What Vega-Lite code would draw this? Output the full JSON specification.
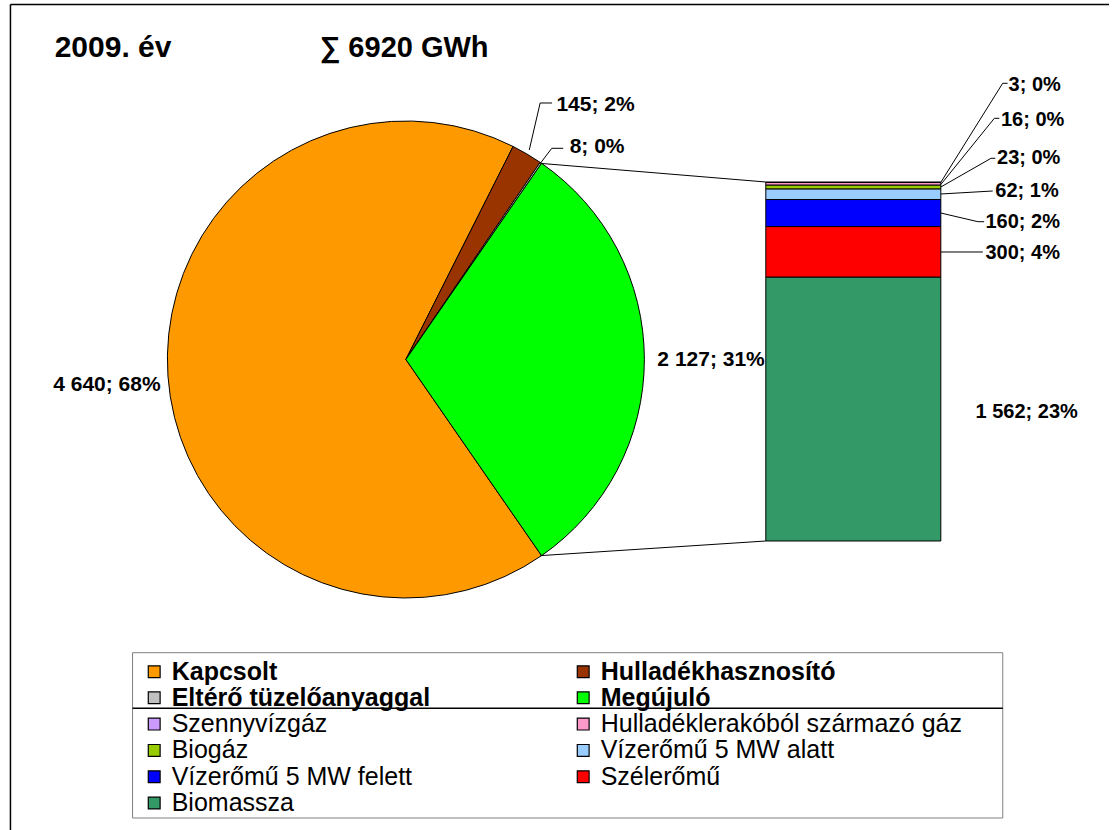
{
  "$schema": "https://vega.github.io/schema/vega-lite/v6.json",
  "width": 1114,
  "height": 830,
  "autosize": {"type": "none"},
  "padding": 0,
  "background": "white",
  "config": {
    "view": {"stroke": null},
    "axis": {"disable": true},
    "font": "Liberation Sans",
    "text": {"font": "Liberation Sans", "color": "black"}
  },
  "datasets": {
    "pie": [
      {"category": "Kapcsolt", "value": 4640, "label": "4 640; 68%"},
      {"category": "Hulladékhasznosító", "value": 145, "label": "145; 2%"},
      {"category": "Eltérő tüzelőanyaggal", "value": 8, "label": "8; 0%"},
      {"category": "Megújuló", "value": 2127, "label": "2 127; 31%"}
    ],
    "bar": [
      {"category": "Szennyvízgáz", "value": 3, "label": "3; 0%"},
      {"category": "Hulladéklerakóból származó gáz", "value": 16, "label": "16; 0%"},
      {"category": "Biogáz", "value": 23, "label": "23; 0%"},
      {"category": "Vízerőmű 5 MW alatt", "value": 62, "label": "62; 1%"},
      {"category": "Vízerőmű 5 MW felett", "value": 160, "label": "160; 2%"},
      {"category": "Szélerőmű", "value": 300, "label": "300; 4%"},
      {"category": "Biomassza", "value": 1562, "label": "1 562; 23%"}
    ],
    "one": [{}]
  },
  "layer": [
    {
      "data": {"name": "one"},
      "mark": {"type": "rule", "stroke": "black", "strokeWidth": 1.5},
      "encoding": {
        "x": {"datum": 0.4937, "type": "quantitative", "scale": {"domain": [0, 100], "nice": false, "zero": false}},
        "x2": {"datum": 100},
        "y": {"datum": 3177.17, "type": "quantitative", "scale": {"domain": [-1711.47, 3203.8], "nice": false, "zero": false}}
      }
    },
    {
      "data": {"name": "one"},
      "mark": {"type": "rule", "stroke": "black", "strokeWidth": 1.5},
      "encoding": {
        "x": {"datum": 0.4937, "type": "quantitative"},
        "y": {"datum": 3177.17, "type": "quantitative"},
        "y2": {"datum": -1711.47}
      }
    },
    {
      "data": {"name": "one"},
      "mark": {"type": "text", "text": "2009. év", "align": "left", "baseline": "alphabetic", "fontSize": 30, "fontWeight": "bold", "color": "black"},
      "encoding": {"x": {"datum": 4.5, "type": "quantitative"}, "y": {"datum": 2864.49, "type": "quantitative"}}
    },
    {
      "data": {"name": "one"},
      "mark": {"type": "text", "text": "∑ 6920 GWh", "align": "left", "baseline": "alphabetic", "fontSize": 29, "fontWeight": "bold", "color": "black"},
      "encoding": {"x": {"datum": 28.5, "type": "quantitative"}, "y": {"datum": 2864.49, "type": "quantitative"}}
    },
    {
      "data": {"name": "pie"},
      "mark": {"type": "arc", "radius": 238.5, "stroke": "black", "strokeWidth": 1},
      "encoding": {
        "x": {"datum": 36.311, "type": "quantitative"},
        "y": {"datum": 1074.85, "type": "quantitative"},
        "theta": {"field": "value", "type": "quantitative", "stack": true, "scale": {"range": [0.605162, 6.888347]}},
        "order": {"field": "category", "sort": "descending"},
        "color": {
          "field": "category",
          "type": "nominal",
          "scale": {
            "domain": ["Kapcsolt", "Eltérő tüzelőanyaggal", "Szennyvízgáz", "Biogáz", "Vízerőmű 5 MW felett", "Biomassza", "Hulladékhasznosító", "Megújuló", "Hulladéklerakóból származó gáz", "Vízerőmű 5 MW alatt", "Szélerőmű"],
            "range": ["#FF9900", "#C0C0C0", "#CC99FF", "#99CC00", "#0000FF", "#339966", "#993300", "#00FF00", "#FF99CC", "#99CCFF", "#FF0000"]
          },
          "legend": {
            "title": null,
            "orient": "none",
            "legendX": 141.7,
            "legendY": 659,
            "direction": "vertical",
            "columns": 2,
            "columnPadding": 140,
            "rowPadding": 0.3,
            "padding": 0,
            "symbolType": "square",
            "symbolSize": 140,
            "symbolStrokeColor": "black",
            "symbolStrokeWidth": 1,
            "labelFont": "Liberation Sans",
            "labelFontSize": 25,
            "labelColor": "black",
            "labelOffset": 5,
            "labelLimit": 600,
            "encode": {
              "symbols": {
                "update": {
                  "stroke": {"value": "black"},
                  "strokeWidth": {"value": 1.2}
                }
              },
              "labels": {
                "update": {
                  "fontWeight": {"signal": "indexof(['Kapcsolt','Hulladékhasznosító','Eltérő tüzelőanyaggal','Megújuló'], datum.value) >= 0 ? 'bold' : 'normal'"}
                }
              }
            }
          }
        }
      }
    },
    {
      "data": {"name": "bar"},
      "mark": {"type": "bar", "orient": "vertical", "stroke": "black", "strokeWidth": 1},
      "encoding": {
        "x": {"datum": 68.914, "type": "quantitative"},
        "x2": {"datum": 84.767},
        "y": {"field": "value", "type": "quantitative", "stack": "zero"},
        "order": {"field": "value", "sort": "descending"},
        "color": {"field": "category", "type": "nominal"}
      }
    },
    {
      "data": {"name": "one"},
      "mark": {"type": "rule", "stroke": "black", "strokeWidth": 1},
      "encoding": {"x": {"datum": 48.491, "type": "quantitative"}, "y": {"datum": 2236.4, "type": "quantitative"}, "x2": {"datum": 68.914}, "y2": {"datum": 2126}}
    },
    {
      "data": {"name": "one"},
      "mark": {"type": "rule", "stroke": "black", "strokeWidth": 1},
      "encoding": {"x": {"datum": 48.491, "type": "quantitative"}, "y": {"datum": -86.7, "type": "quantitative"}, "x2": {"datum": 68.914}, "y2": {"datum": 0}}
    },
    {
      "data": {"name": "pie"},
      "mark": {"type": "text", "radius": 245.8, "align": "right", "baseline": "middle", "dy": 8.4, "fontSize": 21, "fontWeight": "bold", "color": "black"},
      "encoding": {
        "x": {"datum": 36.311, "type": "quantitative"},
        "y": {"datum": 1074.85, "type": "quantitative"},
        "theta": {"field": "value", "type": "quantitative", "stack": true},
        "order": {"field": "category", "sort": "descending"},
        "text": {"condition": {"test": "datum.category === 'Kapcsolt'", "field": "label", "type": "nominal"}, "value": ""}
      }
    },
    {
      "data": {"name": "pie"},
      "mark": {"type": "text", "radius": 251.5, "align": "left", "baseline": "middle", "dy": 0.5, "fontSize": 21, "fontWeight": "bold", "color": "black"},
      "encoding": {
        "x": {"datum": 36.311, "type": "quantitative"},
        "y": {"datum": 1074.85, "type": "quantitative"},
        "theta": {"field": "value", "type": "quantitative", "stack": true},
        "order": {"field": "category", "sort": "descending"},
        "text": {"condition": {"test": "datum.category === 'Megújuló'", "field": "label", "type": "nominal"}, "value": ""}
      }
    },
    {
      "data": {"name": "pie"},
      "mark": {"type": "text", "radius": 296.7, "align": "left", "baseline": "middle", "dy": 1, "fontSize": 21, "fontWeight": "bold", "color": "black"},
      "encoding": {
        "x": {"datum": 36.311, "type": "quantitative"},
        "y": {"datum": 1074.85, "type": "quantitative"},
        "theta": {"field": "value", "type": "quantitative", "stack": true},
        "order": {"field": "category", "sort": "descending"},
        "text": {"condition": {"test": "datum.category === 'Hulladékhasznosító'", "field": "label", "type": "nominal"}, "value": ""}
      }
    },
    {
      "data": {"name": "pie"},
      "mark": {"type": "text", "radius": 257.4, "align": "left", "baseline": "middle", "dx": 18.1, "fontSize": 21, "fontWeight": "bold", "color": "black"},
      "encoding": {
        "x": {"datum": 36.311, "type": "quantitative"},
        "y": {"datum": 1074.85, "type": "quantitative"},
        "theta": {"field": "value", "type": "quantitative", "stack": true},
        "order": {"field": "category", "sort": "descending"},
        "text": {"condition": {"test": "datum.category === 'Eltérő tüzelőanyaggal'", "field": "label", "type": "nominal"}, "value": ""}
      }
    },
    {
      "data": {"name": "one"},
      "mark": {"type": "rule", "stroke": "black", "strokeWidth": 1},
      "encoding": {"x": {"datum": 47.487, "type": "quantitative"}, "y": {"datum": 2315.5, "type": "quantitative"}, "x2": {"datum": 48.474}, "y2": {"datum": 2593.86}}
    },
    {
      "data": {"name": "one"},
      "mark": {"type": "rule", "stroke": "black", "strokeWidth": 1},
      "encoding": {"x": {"datum": 48.474, "type": "quantitative"}, "y": {"datum": 2593.86, "type": "quantitative"}, "x2": {"datum": 49.551}, "y2": {"datum": 2593.86}}
    },
    {
      "data": {"name": "one"},
      "mark": {"type": "rule", "stroke": "black", "strokeWidth": 1},
      "encoding": {"x": {"datum": 48.491, "type": "quantitative"}, "y": {"datum": 2236.4, "type": "quantitative"}, "x2": {"datum": 49.524}, "y2": {"datum": 2325.58}}
    },
    {
      "data": {"name": "one"},
      "mark": {"type": "rule", "stroke": "black", "strokeWidth": 1},
      "encoding": {"x": {"datum": 49.524, "type": "quantitative"}, "y": {"datum": 2325.58, "type": "quantitative"}, "x2": {"datum": 50.566}, "y2": {"datum": 2325.58}}
    },
    {
      "data": {"name": "bar"},
      "mark": {"type": "text", "align": "left", "baseline": "middle", "dy": 2.6, "fontSize": 20, "fontWeight": "bold", "color": "black"},
      "encoding": {
        "x": {"datum": 87.908, "type": "quantitative"},
        "y": {"field": "value", "type": "quantitative", "stack": "zero", "bandPosition": 0.5},
        "order": {"field": "value", "sort": "descending"},
        "text": {"condition": {"test": "datum.category === 'Biomassza'", "field": "label", "type": "nominal"}, "value": ""}
      }
    },
    {
      "data": {"name": "bar"},
      "mark": {"type": "text", "align": "left", "baseline": "middle", "dy": 1.4, "fontSize": 20, "fontWeight": "bold", "color": "black"},
      "encoding": {
        "x": {"datum": 88.806, "type": "quantitative"},
        "y": {"field": "value", "type": "quantitative", "stack": "zero", "bandPosition": 0.5},
        "order": {"field": "value", "sort": "descending"},
        "text": {"condition": {"test": "datum.category === 'Szélerőmű'", "field": "label", "type": "nominal"}, "value": ""}
      }
    },
    {
      "data": {"name": "bar"},
      "mark": {"type": "text", "align": "left", "baseline": "middle", "dy": 8.6, "fontSize": 20, "fontWeight": "bold", "color": "black"},
      "encoding": {
        "x": {"datum": 88.806, "type": "quantitative"},
        "y": {"field": "value", "type": "quantitative", "stack": "zero", "bandPosition": 0.5},
        "order": {"field": "value", "sort": "descending"},
        "text": {"condition": {"test": "datum.category === 'Vízerőmű 5 MW felett'", "field": "label", "type": "nominal"}, "value": ""}
      }
    },
    {
      "data": {"name": "bar"},
      "mark": {"type": "text", "align": "left", "baseline": "middle", "dy": -3.3, "fontSize": 20, "fontWeight": "bold", "color": "black"},
      "encoding": {
        "x": {"datum": 89.704, "type": "quantitative"},
        "y": {"field": "value", "type": "quantitative", "stack": "zero", "bandPosition": 0.5},
        "order": {"field": "value", "sort": "descending"},
        "text": {"condition": {"test": "datum.category === 'Vízerőmű 5 MW alatt'", "field": "label", "type": "nominal"}, "value": ""}
      }
    },
    {
      "data": {"name": "bar"},
      "mark": {"type": "text", "align": "left", "baseline": "middle", "dy": -28.9, "fontSize": 20, "fontWeight": "bold", "color": "black"},
      "encoding": {
        "x": {"datum": 89.856, "type": "quantitative"},
        "y": {"field": "value", "type": "quantitative", "stack": "zero", "bandPosition": 0.5},
        "order": {"field": "value", "sort": "descending"},
        "text": {"condition": {"test": "datum.category === 'Biogáz'", "field": "label", "type": "nominal"}, "value": ""}
      }
    },
    {
      "data": {"name": "bar"},
      "mark": {"type": "text", "align": "left", "baseline": "middle", "dy": -63.9, "fontSize": 20, "fontWeight": "bold", "color": "black"},
      "encoding": {
        "x": {"datum": 90.215, "type": "quantitative"},
        "y": {"field": "value", "type": "quantitative", "stack": "zero", "bandPosition": 0.5},
        "order": {"field": "value", "sort": "descending"},
        "text": {"condition": {"test": "datum.category === 'Hulladéklerakóból származó gáz'", "field": "label", "type": "nominal"}, "value": ""}
      }
    },
    {
      "data": {"name": "bar"},
      "mark": {"type": "text", "align": "left", "baseline": "middle", "dy": -97.3, "fontSize": 20, "fontWeight": "bold", "color": "black"},
      "encoding": {
        "x": {"datum": 90.907, "type": "quantitative"},
        "y": {"field": "value", "type": "quantitative", "stack": "zero", "bandPosition": 0.5},
        "order": {"field": "value", "sort": "descending"},
        "text": {"condition": {"test": "datum.category === 'Szennyvízgáz'", "field": "label", "type": "nominal"}, "value": ""}
      }
    },
    {
      "data": {"name": "one"},
      "mark": {"type": "rule", "stroke": "black", "strokeWidth": 1},
      "encoding": {"x": {"datum": 84.767, "type": "quantitative"}, "y": {"datum": 2124.23, "type": "quantitative"}, "x2": {"datum": 90.368}, "y2": {"datum": 2710.51}}
    },
    {
      "data": {"name": "one"},
      "mark": {"type": "rule", "stroke": "black", "strokeWidth": 1},
      "encoding": {"x": {"datum": 90.368, "type": "quantitative"}, "y": {"datum": 2710.51, "type": "quantitative"}, "x2": {"datum": 90.817}, "y2": {"datum": 2710.51}}
    },
    {
      "data": {"name": "one"},
      "mark": {"type": "rule", "stroke": "black", "strokeWidth": 1},
      "encoding": {"x": {"datum": 84.767, "type": "quantitative"}, "y": {"datum": 2111.2, "type": "quantitative"}, "x2": {"datum": 89.614}, "y2": {"datum": 2503.2}}
    },
    {
      "data": {"name": "one"},
      "mark": {"type": "rule", "stroke": "black", "strokeWidth": 1},
      "encoding": {"x": {"datum": 89.614, "type": "quantitative"}, "y": {"datum": 2503.2, "type": "quantitative"}, "x2": {"datum": 90.063}, "y2": {"datum": 2503.2}}
    },
    {
      "data": {"name": "one"},
      "mark": {"type": "rule", "stroke": "black", "strokeWidth": 1},
      "encoding": {"x": {"datum": 84.767, "type": "quantitative"}, "y": {"datum": 2096.4, "type": "quantitative"}, "x2": {"datum": 89.318}, "y2": {"datum": 2266.4}}
    },
    {
      "data": {"name": "one"},
      "mark": {"type": "rule", "stroke": "black", "strokeWidth": 1},
      "encoding": {"x": {"datum": 89.318, "type": "quantitative"}, "y": {"datum": 2266.4, "type": "quantitative"}, "x2": {"datum": 89.704}, "y2": {"datum": 2266.4}}
    },
    {
      "data": {"name": "one"},
      "mark": {"type": "rule", "stroke": "black", "strokeWidth": 1},
      "encoding": {"x": {"datum": 84.767, "type": "quantitative"}, "y": {"datum": 2054.94, "type": "quantitative"}, "x2": {"datum": 89.47}, "y2": {"datum": 2072.7}}
    },
    {
      "data": {"name": "one"},
      "mark": {"type": "rule", "stroke": "black", "strokeWidth": 1},
      "encoding": {"x": {"datum": 84.767, "type": "quantitative"}, "y": {"datum": 1942.4, "type": "quantitative"}, "x2": {"datum": 88.124}, "y2": {"datum": 1890.9}}
    },
    {
      "data": {"name": "one"},
      "mark": {"type": "rule", "stroke": "black", "strokeWidth": 1},
      "encoding": {"x": {"datum": 88.124, "type": "quantitative"}, "y": {"datum": 1890.9, "type": "quantitative"}, "x2": {"datum": 88.689}, "y2": {"datum": 1890.9}}
    },
    {
      "data": {"name": "one"},
      "mark": {"type": "rule", "stroke": "black", "strokeWidth": 1},
      "encoding": {"x": {"datum": 84.767, "type": "quantitative"}, "y": {"datum": 1711.47, "type": "quantitative"}, "x2": {"datum": 88.573}, "y2": {"datum": 1711.47}}
    },
    {
      "data": {"name": "one"},
      "mark": {"type": "rect", "filled": false, "stroke": "#808080", "strokeWidth": 1},
      "encoding": {"x": {"datum": 11.553, "type": "quantitative"}, "x2": {"datum": 90.377}, "y": {"datum": -661.5, "type": "quantitative"}, "y2": {"datum": -1640.4}}
    },
    {
      "data": {"name": "one"},
      "mark": {"type": "rule", "stroke": "black", "strokeWidth": 1.5},
      "encoding": {"x": {"datum": 11.553, "type": "quantitative"}, "y": {"datum": -990.76, "type": "quantitative"}, "x2": {"datum": 90.377}, "y2": {"datum": -990.76}}
    }
  ]
}
